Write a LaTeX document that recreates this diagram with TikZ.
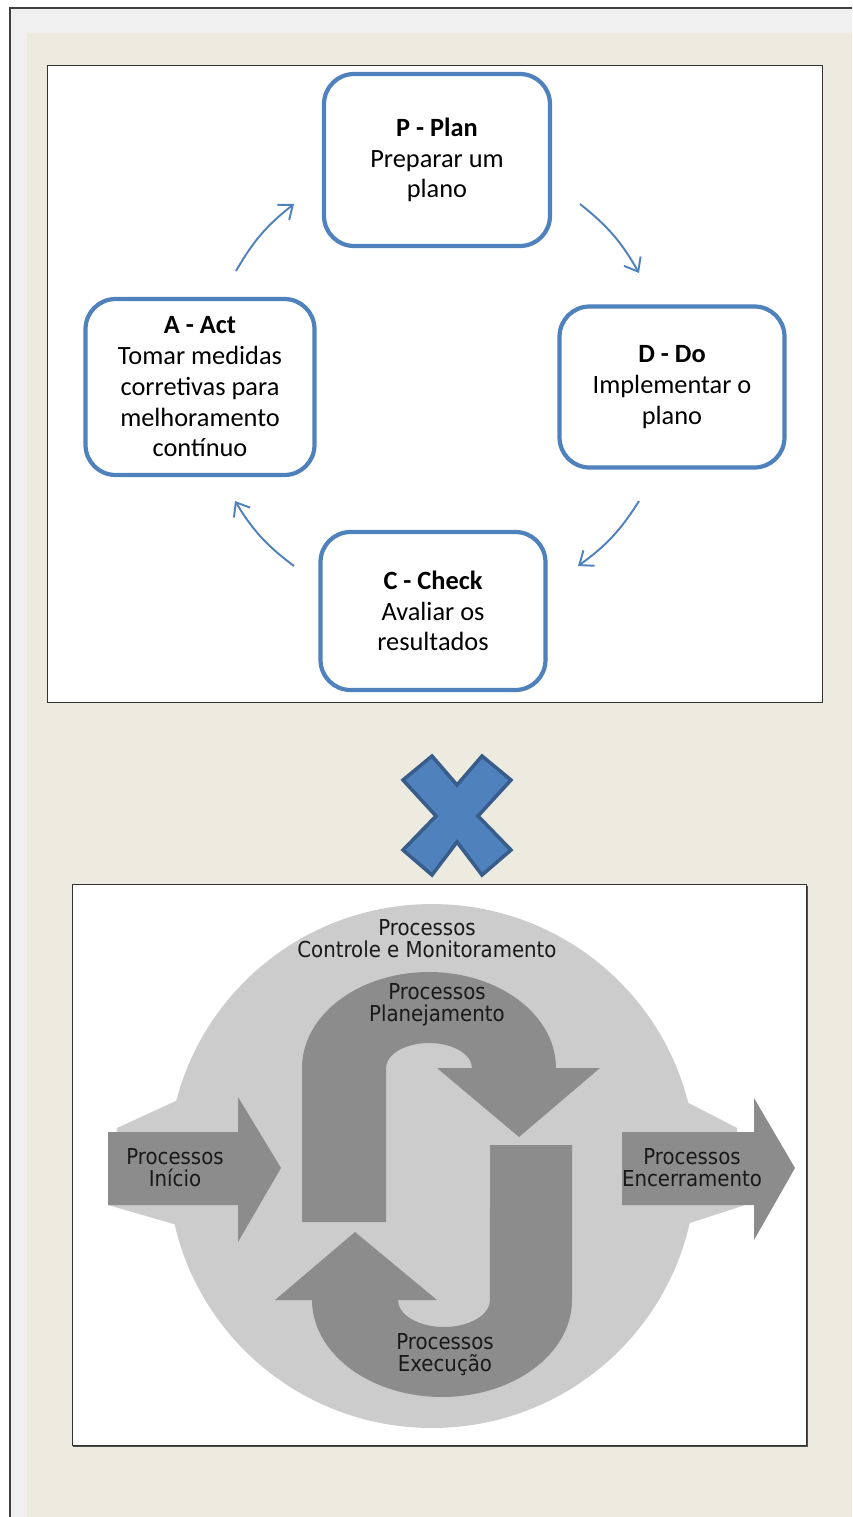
\documentclass[tikz,border=0pt]{standalone}
\usepackage{fontspec}
\setmainfont{Carlito}
\newfontfamily\condfont{DejaVu Sans Condensed}
\usepackage{xcolor}
\usetikzlibrary{arrows.meta,positioning}

\definecolor{pdcablue}{HTML}{4F81BD}
\definecolor{xedge}{HTML}{385D8A}
\definecolor{pagegrey}{HTML}{F0F0F0}
\definecolor{paper}{HTML}{EDEAE0}
\definecolor{ringgrey}{HTML}{CCCCCC}
\definecolor{flowgrey}{HTML}{8C8C8C}

\begin{document}
\begin{tikzpicture}[
    x=0.02cm, y=0.02cm,
    stage/.style={draw=pdcablue, line width=2.4pt, rounded corners=0.6cm, fill=white,
                  align=center, inner sep=0pt, font=\fontsize{15}{17.5}\selectfont},
    cyc/.style={pdcablue, line width=1.1pt, -{Straight Barb[length=2.4mm,width=3.8mm]}, bend left=11},
    proc/.style={align=center, text=black!90, font=\condfont\fontsize{12.5}{12.5}\selectfont}
]
    % page and panels
    \useasboundingbox (0,0) rectangle (852,-1517);
    \fill[pagegrey] (10,-8) rectangle (852,-1517);
    \fill[paper] (27,-33) rectangle (852,-1517);
    \draw[black!75, line width=0.6pt] (10,-1517) -- (10,-8) -- (852,-8);
    \draw[black!80, fill=white, line width=0.5pt] (47,-65) rectangle (822,-702);

    % PDCA cycle
    \node[stage, minimum width=4.52cm, minimum height=3.44cm] (plan)  at (437,-160) {\textbf{P - Plan}\\Preparar um\\plano};
    \node[stage, minimum width=4.50cm, minimum height=3.22cm] (do)    at (672,-387) {\textbf{D - Do}\\Implementar o\\plano};
    \node[stage, minimum width=4.50cm, minimum height=3.16cm] (check) at (433,-611) {\textbf{C - Check}\\Avaliar os\\resultados};
    \node[stage, minimum width=4.58cm, minimum height=3.52cm] (act)   at (200,-387) {\textbf{A - Act}\\Tomar medidas\\corretivas para\\melhoramento\\contínuo};

    \coordinate (ap0) at (236,-271);  \coordinate (ap1) at (294,-204);
    \coordinate (pd0) at (580,-204);  \coordinate (pd1) at (639,-273);
    \coordinate (dc0) at (639,-501);  \coordinate (dc1) at (578,-566);
    \coordinate (ca0) at (294,-566);  \coordinate (ca1) at (235,-501);
    \draw[cyc] (ap0) to (ap1);
    \draw[cyc] (pd0) to (pd1);
    \draw[cyc] (dc0) to (dc1);
    \draw[cyc] (ca0) to (ca1);

    % cross
    \filldraw[fill=pdcablue, draw=xedge, line width=2pt, line join=miter]
        (403,-780) -- (432,-756) -- (457,-785) -- (482,-756) -- (511,-780) -- (478,-816)
        -- (511,-850) -- (482,-875) -- (457,-842) -- (432,-875) -- (403,-850) -- (436,-816) -- cycle;

    % process groups
    \fill[black!70] (73,-886) rectangle (808,-1447);
    \draw[black!80, fill=white, line width=0.5pt] (72,-884) rectangle (806,-1445);
    \fill[ringgrey] (117,-1128) -- (215,-1083) -- (215,-1236) -- (108,-1205) -- cycle;
    \fill[ringgrey] (737,-1128) -- (650,-1083) -- (650,-1236) -- (745,-1205) -- cycle;
    \fill[ringgrey] (432,-1166) ellipse [x radius=5.28cm, y radius=5.24cm];

    \fill[flowgrey] (108,-1132) -- (238,-1132) -- (238,-1097) -- (281,-1168) -- (238,-1242) -- (238,-1205) -- (108,-1205) -- cycle;
    \fill[flowgrey] (622,-1132) -- (754,-1132) -- (754,-1098) -- (795,-1168) -- (754,-1240) -- (754,-1205) -- (622,-1205) -- cycle;
    \fill[flowgrey] (302,-1222) -- (302,-1068) arc[start angle=180, end angle=0, x radius=2.54cm, y radius=1.92cm]
        -- (600,-1068) -- (519,-1137) -- (437,-1068) -- (472,-1068)
        arc[start angle=0, end angle=180, x radius=0.86cm, y radius=0.5cm] -- (386,-1222) -- cycle;
    \fill[flowgrey] (572,-1145) -- (572,-1300) arc[start angle=0, end angle=-180, x radius=2.6cm, y radius=1.94cm]
        -- (275,-1300) -- (355,-1232) -- (437,-1300) -- (398,-1300)
        arc[start angle=180, end angle=360, x radius=0.92cm, y radius=0.54cm] -- (490,-1145) -- cycle;

    \node[proc] (ctrl)    at (427,-939)  {Processos\\Controle e Monitoramento};
    \node[proc] (planlbl) at (437,-1005) {Processos\\Planejamento};
    \node[proc] (start)   at (175,-1168) {Processos\\Início};
    \node[proc] (close)   at (692,-1168) {Processos\\Encerramento};
    \node[proc] (exec)    at (445,-1355) {Processos\\Execução};
\end{tikzpicture}
\end{document}
